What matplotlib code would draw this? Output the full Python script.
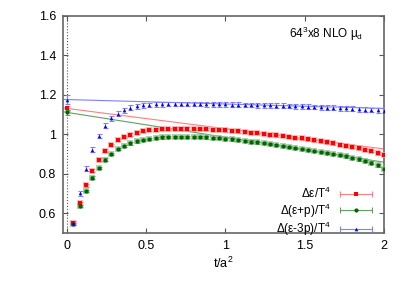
import matplotlib
matplotlib.use('Agg')
import matplotlib.pyplot as plt
from matplotlib.lines import Line2D
from matplotlib.legend_handler import HandlerLine2D

plt.rcParams['font.family'] = ['Liberation Sans', 'DejaVu Sans']
plt.rcParams['mathtext.fontset'] = 'custom'
plt.rcParams['mathtext.rm'] = 'Liberation Sans'
plt.rcParams['mathtext.it'] = 'Liberation Sans'

# flow time t/a^2
t = [0.04, 0.08, 0.12, 0.16, 0.20, 0.24, 0.28, 0.32, 0.36, 0.40,
     0.44, 0.48, 0.52, 0.56, 0.60, 0.64, 0.68, 0.72, 0.76, 0.80,
     0.84, 0.88, 0.92, 0.96, 1.00, 1.04, 1.08, 1.12, 1.16, 1.20,
     1.24, 1.28, 1.32, 1.36, 1.40, 1.44, 1.48, 1.52, 1.56, 1.60,
     1.64, 1.68, 1.72, 1.76, 1.80, 1.84, 1.88, 1.92, 1.96, 2.00]

eps = [0.550, 0.650, 0.741, 0.816, 0.871, 0.917, 0.946, 0.970, 0.985, 0.998,
       1.008, 1.015, 1.020, 1.023, 1.026, 1.027, 1.028, 1.028, 1.028, 1.027,
       1.026, 1.025, 1.023, 1.021, 1.019, 1.017, 1.014, 1.011, 1.008, 1.005,
       1.002, 0.998, 0.994, 0.990, 0.986, 0.982, 0.978, 0.973, 0.968, 0.963,
       0.958, 0.953, 0.947, 0.941, 0.935, 0.928, 0.921, 0.914, 0.903, 0.894]

epsp = [0.545, 0.635, 0.713, 0.780, 0.830, 0.871, 0.901, 0.925, 0.941, 0.953,
        0.963, 0.971, 0.976, 0.980, 0.983, 0.985, 0.986, 0.987, 0.987, 0.986,
        0.985, 0.983, 0.981, 0.979, 0.976, 0.973, 0.970, 0.966, 0.962, 0.958,
        0.954, 0.950, 0.946, 0.941, 0.936, 0.931, 0.926, 0.921, 0.916, 0.911,
        0.906, 0.900, 0.894, 0.887, 0.880, 0.872, 0.864, 0.856, 0.842, 0.826]

eps3p = [0.550, 0.700, 0.825, 0.921, 0.990, 1.043, 1.080, 1.103, 1.120, 1.133,
         1.140, 1.145, 1.148, 1.150, 1.151, 1.152, 1.152, 1.152, 1.152, 1.152,
         1.152, 1.151, 1.151, 1.150, 1.150, 1.149, 1.149, 1.148, 1.147, 1.146,
         1.146, 1.145, 1.144, 1.143, 1.142, 1.141, 1.140, 1.138, 1.137, 1.136,
         1.134, 1.133, 1.131, 1.130, 1.128, 1.126, 1.124, 1.122, 1.120, 1.118]

# extrapolated t=0 values and linear fits (value at t=0, value at t=2)
t0_vals = [1.130, 1.110, 1.175]
t0_errs = [0.012, 0.012, 0.022]
fit_end = [0.925, 0.858, 1.130]

err_small = 0.006
err_blue = 0.012

fig = plt.figure(figsize=(4.09, 2.86), dpi=100)
ax = fig.add_axes([63 / 409, 1 - 233 / 286, (384 - 63) / 409, (233 - 15.5) / 286])

ax.axvline(0, color='#555555', linestyle=':', linewidth=0.8, zorder=1)

dark = ['#ff0000', '#006400', '#0000ff']
light = ['#ff8080', '#60a060', '#8080ff']
bandc = ['#ff9999', '#88c088', '#9999ff']
series = [eps, epsp, eps3p]
markers = ['s', 'o', '^']
msizes = [3.0, 3.0, 2.6]
labels = [r'$\Delta\epsilon$/T$^4$', r'$\Delta(\epsilon$+p)/T$^4$', r'$\Delta(\epsilon$-3p)/T$^4$']

xmin = -0.025
for i in range(3):
    # linear fit line
    slope = (fit_end[i] - t0_vals[i]) / 2.0
    ax.plot([xmin, 2.0], [t0_vals[i] + slope * xmin, fit_end[i]],
            color=light[i], linewidth=0.8, zorder=2)
    err = err_blue if i == 2 else err_small
    if i < 2:
        # shaded error boxes
        ax.plot(t, series[i], linestyle='none', marker='s', markersize=4.6,
                color=bandc[i], alpha=0.7, markeredgewidth=0, zorder=3)
    ax.errorbar(t, series[i], yerr=err, fmt='none', ecolor=light[i],
                elinewidth=0.8, capsize=1.8, capthick=0.8, zorder=4)
    ax.plot(t, series[i], linestyle='none', marker=markers[i], markersize=msizes[i],
            color=dark[i], markeredgewidth=0, zorder=5)
    # t = 0 point
    ax.errorbar([0.0], [t0_vals[i]], yerr=t0_errs[i], fmt='none', ecolor=light[i],
                elinewidth=0.8, capsize=1.8, capthick=0.8, zorder=4)
    ax.plot([0.0], [t0_vals[i]], linestyle='none', marker=markers[i], markersize=msizes[i],
            color=dark[i], markeredgewidth=0, zorder=5)

# legend handles in gnuplot style: light bar with caps and a dark marker
handles = []
hmap = {}
for i in range(3):
    caps = Line2D([], [], color=light[i], linewidth=0.8, marker='|', markersize=4,
                  markeredgewidth=0.8)
    mark = Line2D([], [], linestyle='none', marker=markers[i], markersize=msizes[i],
                  color=dark[i], markeredgewidth=0)
    hmap[caps] = HandlerLine2D(numpoints=2)
    hmap[mark] = HandlerLine2D(numpoints=1)
    handles.append((caps, mark))

leg = ax.legend(handles, labels, handler_map=hmap, loc='lower right',
                bbox_to_anchor=(1.0, -0.06), frameon=False, markerfirst=False,
                fontsize=8.5, handlelength=3.3, handletextpad=0.5,
                labelspacing=0.0, borderpad=0.2)

ax.text(0.704, 0.915, r'64$^3$x8 NLO $\mu_{\rm d}$', transform=ax.transAxes,
        fontsize=8.5, ha='left', va='center')

ax.set_xlim(xmin, 2.0)
ax.set_ylim(0.5, 1.6)
ax.set_xticks([0, 0.5, 1, 1.5, 2])
ax.set_xticklabels(['0', '0.5', '1', '1.5', '2'])
ax.set_yticks([0.6, 0.8, 1.0, 1.2, 1.4, 1.6])
ax.set_yticklabels(['0.6', '0.8', '1', '1.2', '1.4', '1.6'])
ax.tick_params(direction='in', top=True, right=True, length=3.5, width=0.8,
               labelsize=9, colors='#555555', labelcolor='black', pad=5)
for s in ax.spines.values():
    s.set_color('#666666')
    s.set_linewidth(1.2)
ax.set_xlabel(r't/a$^2$', fontsize=9, labelpad=3)

fig.savefig('out.png', dpi=100)
